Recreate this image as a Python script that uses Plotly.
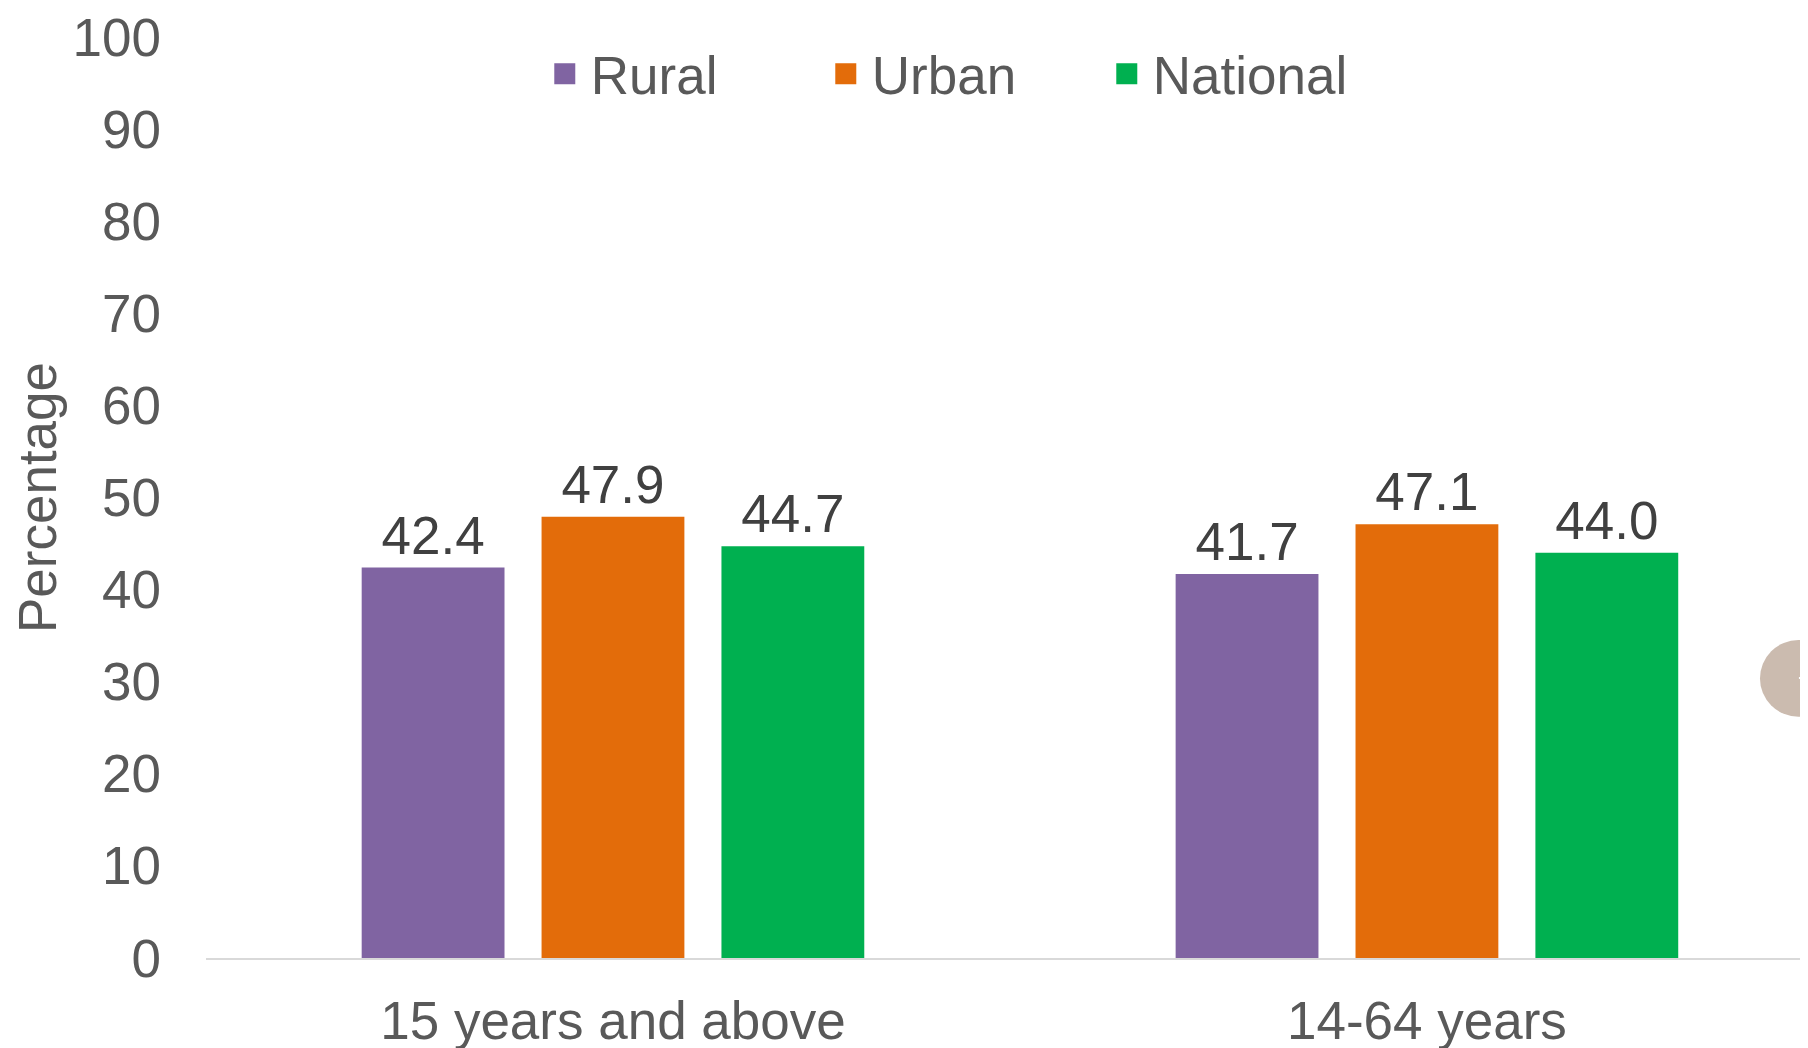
import plotly.graph_objects as go

categories = ["15 years and above", "14-64 years"]
series_names = ["Rural", "Urban", "National"]
rural = [42.4, 41.7]
urban = [47.9, 47.1]
national = [44.7, 44.0]
y_ticks = [0, 10, 20, 30, 40, 50, 60, 70, 80, 90, 100]

colors = {"Rural": "#8064A2", "Urban": "#E36C0A", "National": "#00B050"}
values = {"Rural": rural, "Urban": urban, "National": national}

FONT = "Liberation Sans, Arial, sans-serif"
FS = 53

fig = go.Figure()
for name in series_names:
    fig.add_trace(go.Bar(
        x=categories, y=values[name], name=name,
        marker=dict(color=colors[name], line=dict(width=0)),
        texttemplate="%{y:.1f}", textposition="outside",
        textfont=dict(family=FONT, size=FS, color="#404040"),
        cliponaxis=False, showlegend=False, legendgroup=name,
    ))
# legend proxies (larger square symbols)
for name in series_names:
    fig.add_trace(go.Scatter(
        x=[None], y=[None], mode="markers", name=name, legendgroup=name,
        marker=dict(symbol="square", size=16, color=colors[name],
                    line=dict(width=5, color=colors[name])),
        showlegend=True, hoverinfo="skip",
    ))

fig.update_layout(
    width=1808, height=1048,
    margin=dict(l=198, r=0, t=26, b=98, pad=0),
    paper_bgcolor="white", plot_bgcolor="white",
    barmode="group", bargap=0.337, bargroupgap=0.206,
    font=dict(family=FONT, size=FS, color="#595959"),
    legend=dict(
        orientation="h", x=0.4685, xanchor="center", y=0.9600, yanchor="middle",
        font=dict(family=FONT, size=FS, color="#595959"),
        bgcolor="rgba(0,0,0,0)", itemsizing="trace", itemwidth=42,
        entrywidth=224, entrywidthmode="pixels",
    ),
    xaxis=dict(
        type="category", range=[-0.5, 1.478],
        showline=True, linecolor="#D9D9D9", linewidth=2,
        showgrid=False, ticks="", zeroline=False,
        tickfont=dict(family=FONT, size=FS, color="#595959"),
        ticklabelstandoff=15, ticklabeloverflow="allow",
    ),
    yaxis=dict(
        range=[0, 100], tickvals=y_ticks, ticktext=[str(v) for v in y_ticks],
        showgrid=False, zeroline=False, showline=False, ticks="",
        tickfont=dict(family=FONT, size=FS, color="#595959"),
        ticklabelstandoff=44, ticklabeloverflow="allow",
        title=dict(text="Percentage", font=dict(family=FONT, size=FS, color="#595959"),
                   standoff=21),
    ),
    shapes=[
        dict(type="circle", xref="paper", yref="paper",
             x0=0.9652, x1=1.0130, y0=0.2619, y1=0.3452,
             fillcolor="#CBBBAF", line=dict(width=0), layer="above"),
        dict(type="line", xref="paper", yref="paper",
             x0=0.9894, x1=1.0, y0=0.3041, y1=0.3041,
             line=dict(color="white", width=2), layer="above"),
    ],
)

fig.write_html("out.html")
